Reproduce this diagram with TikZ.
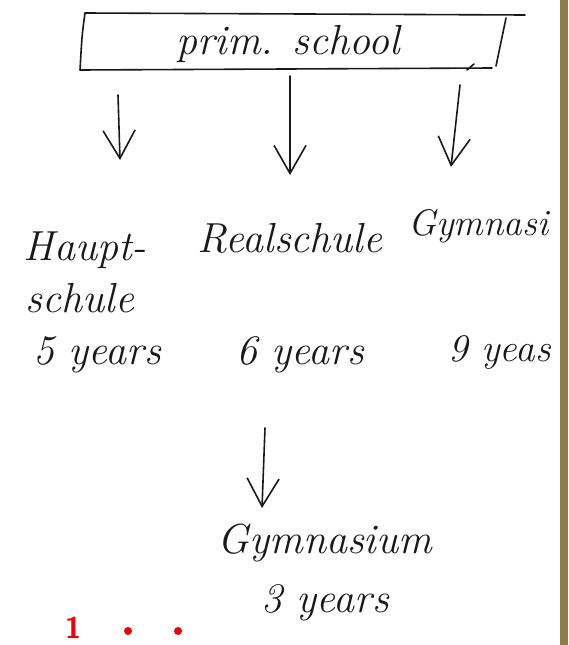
\documentclass[tikz,border=0pt]{standalone}
\usetikzlibrary{arrows.meta}
\definecolor{olivebar}{RGB}{140,124,72}
\definecolor{ink}{RGB}{25,25,25}
\definecolor{redmark}{RGB}{240,0,0}
\begin{document}
\begin{tikzpicture}[x=1pt,y=-1pt,
  hand/.style={font=\fontsize{42}{46}\selectfont\itshape, text=ink, inner sep=0pt},
  stroke/.style={draw=ink, line width=1.6pt, line cap=round, line join=round},
  arr/.style={stroke, -{Straight Barb[length=28pt,width=32pt,line width=1.6pt]}}]
\useasboundingbox (0,0) rectangle (568,645);
\fill[white] (0,0) rectangle (568,645);
% box
\draw[stroke] (85,13) -- (525,15);
\draw[stroke] (85,13) .. controls (82,35) .. (80,70) -- (492,68);
\draw[stroke] (506,18) -- (496,66);
\draw[stroke] (467,70) -- (474,64);
\node[hand] (prim) at (288,44) {prim. school};
% first row
\node[hand] (haupt) at (85,250) {Haupt-};
\node[hand] (schule) at (80,298) {schule};
\node[hand] (real) at (290,238) {Realschule};
\node[hand, font=\fontsize{37}{40}\selectfont\itshape, anchor=west] (gym) at (408,226) {Gymnasi};
\node[hand] (y5) at (97,355) {5 years};
\node[hand] (y6) at (300,355) {6 years};
\node[hand, font=\fontsize{39}{42}\selectfont\itshape, anchor=west] (y9) at (448,353) {9 yeas};
% second
\node[hand] (gym2) at (325,543) {Gymnasium};
\node[hand] (y3) at (325,603) {3 years};
% arrows
\coordinate (a1s) at (118,95);  \coordinate (a1e) at (120,160);
\coordinate (a2s) at (290,76);  \coordinate (a2e) at (290,175);
\coordinate (a3s) at (460,85);  \coordinate (a3e) at (451,167);
\coordinate (a4s) at (265,428); \coordinate (a4e) at (262,508);
\draw[arr] (a1s) -- (a1e);
\draw[arr] (a2s) -- (a2e);
\draw[arr] (a3s) -- (a3e);
\draw[arr] (a4s) -- (a4e);
% olive bar
\fill[olivebar] (560,0) rectangle (568,645);
% red marks
\node[text=redmark, font=\fontsize{30}{30}\selectfont\bfseries\sffamily, anchor=south, inner sep=0pt] (one) at (73,639) {1};
\fill[redmark] (128,631) circle (4pt) coordinate (d1);
\fill[redmark] (178,631) circle (4pt) coordinate (d2);
\end{tikzpicture}
\end{document}
